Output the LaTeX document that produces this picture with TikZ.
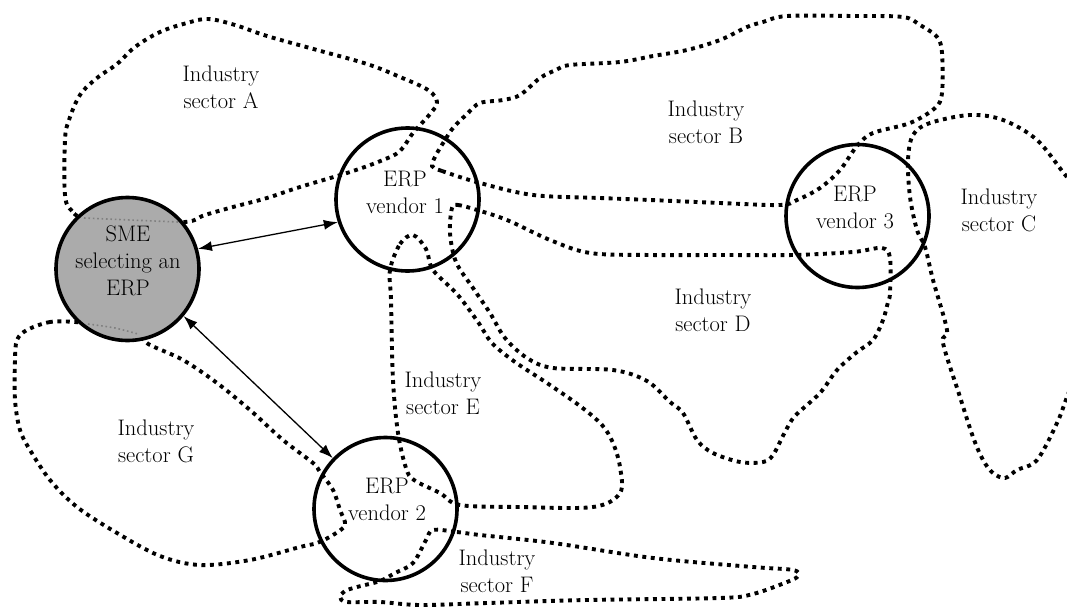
\documentclass[tikz,border=0pt]{standalone}
\usetikzlibrary{arrows.meta}
\begin{document}
\begin{tikzpicture}[x=1pt,y=-1pt,
  sector/.style={line width=3.9pt,dash pattern=on 3.9pt off 4.6pt},
  faint/.style={draw=black!50,line width=1.6pt,dash pattern=on 1.6pt off 2.8pt},
  vendor/.style={circle,draw,line width=3.6pt,minimum size=143pt,inner sep=0pt},
  smebox/.style={vendor,fill=black!33},
  lbl/.style={align=center,font=\fontsize{22.5}{27}\selectfont,inner sep=0pt},
  link/.style={{Latex[length=14pt,width=10pt]}-{Latex[length=14pt,width=10pt]},line width=1.3pt}]
\useasboundingbox (0,0) rectangle (1067,607);
\clip (0,0) rectangle (1067,607);

% industry sector boundaries
% A
\draw[sector] plot[smooth cycle,tension=0.6] coordinates {
  (85,218) (72,211) (65,195) (65,140) (69,120) (80,95) (97,78) (117,64)
  (135,47) (160,32) (187,23) (208,19) (235,25) (267,36) (317,50) (367,64)
  (400,77) (428,90) (437,102) (430,114) (413,133) (400,151) (383,160)
  (350,172) (300,187) (267,198) (233,207) (205,215) (185,222) (130,221)};
% B
\draw[sector] plot[smooth cycle,tension=0.55] coordinates {
  (432,166) (442,171) (480,183) (533,195) (600,198) (650,200) (720,203)
  (780,205) (797,200) (820,188) (840,170) (857,146) (873,133) (910,123)
  (935,108) (942,93) (942,53) (937,37) (920,25) (903,17) (853,16) (787,16)
  (763,22) (747,27) (720,40) (687,50) (653,56) (620,62) (570,65) (556,70)
  (540,78) (520,95) (503,100) (480,103) (468,113) (453,128) (445,140)
  (436,155)};
% C
\draw[sector] plot[smooth cycle,tension=0.55] coordinates {
  (1090,200) (1067,177) (1037,140) (1003,120) (970,115) (930,123) (913,135)
  (908,160) (910,197) (917,230) (925,247) (933,280) (947,330) (943,343)
  (960,397) (973,437) (983,460) (993,473) (1005,478) (1017,470) (1037,460)
  (1057,423) (1067,397) (1085,350) (1110,270)};
% D
\draw[sector] plot[smooth cycle,tension=0.55] coordinates {
  (452,208) (458,205) (477,210) (507,220) (550,240) (590,253) (650,255)
  (720,255) (793,255) (853,252) (882,248) (890,258) (890,293) (888,302)
  (883,320) (873,340) (857,352) (837,370) (820,393) (795,416) (785,432)
  (773,455) (763,462) (740,462) (713,453) (697,440) (683,413) (670,402)
  (647,381) (613,370) (553,368) (527,358) (505,338) (490,313) (473,288)
  (456,262) (450,233)};
% E
\draw[sector] plot[smooth cycle,tension=0.55] coordinates {
  (390,270) (400,244) (413,235) (426,249) (433,270) (457,294) (478,322)
  (492,343) (515,362) (547,383) (580,406) (602,425) (613,443) (620,467)
  (620,493) (593,507) (520,507) (460,505) (440,493) (414,480) (406,468)
  (398,433) (393,380) (391,300)};
% F
\draw[sector] plot[smooth cycle,tension=0.55] coordinates {
  (433,530) (457,532) (480,535) (553,543) (653,558) (753,567) (793,570)
  (798,576) (787,582) (753,594) (720,598) (587,600) (487,603) (420,605)
  (380,602) (347,602) (340,597) (345,591) (357,587) (380,581) (395,573)
  (413,563) (426,540)};
% G
\draw[sector] plot[smooth cycle,tension=0.55] coordinates {
  (75,322) (50,322) (27,330) (17,340) (15,360) (15,400) (20,430) (30,450)
  (50,480) (77,507) (117,533) (160,556) (200,565) (250,560) (300,547)
  (317,543) (333,535) (345,525) (340,510) (333,490) (320,472) (313,463)
  (283,440) (250,410) (217,383) (183,360) (150,345) (137,336) (90,325)};

% the SME and the vendors
\node[smebox] (sme) at (127.5,269) {};
\draw[faint] plot[smooth] coordinates {(84,218) (130,220) (178,222)};
\draw[faint] plot[smooth] coordinates {(88,324) (115,328) (138,334)};
\node[vendor] (v1) at (407.5,199.5) {};
\node[vendor] (v2) at (385.5,509) {};
\node[vendor] (v3) at (857.5,216) {};

\node[lbl] (smet) at (128,261) {SME\\selecting an\\ERP};
\node[lbl] (v1t) at (405,192) {ERP\\vendor 1};
\node[lbl] (v2t) at (387,499) {ERP\\vendor 2};
\node[lbl] (v3t) at (855,207) {ERP\\vendor 3};

% sector names
\node[lbl] (sa) at (221,87) {Industry\\sector A};
\node[lbl] (sb) at (706,122) {Industry\\sector B};
\node[lbl] (sc) at (999,210) {Industry\\sector C};
\node[lbl] (sd) at (713,310) {Industry\\sector D};
\node[lbl] (se) at (443,393) {Industry\\sector E};
\node[lbl] (sf) at (497,571) {Industry\\sector F};
\node[lbl] (sg) at (156,441) {Industry\\sector G};

% links between the SME and the vendors
\draw[link] (sme.16) -- (v1.198);
\draw[link] (sme.320) -- (v2.136);
\end{tikzpicture}
\end{document}
